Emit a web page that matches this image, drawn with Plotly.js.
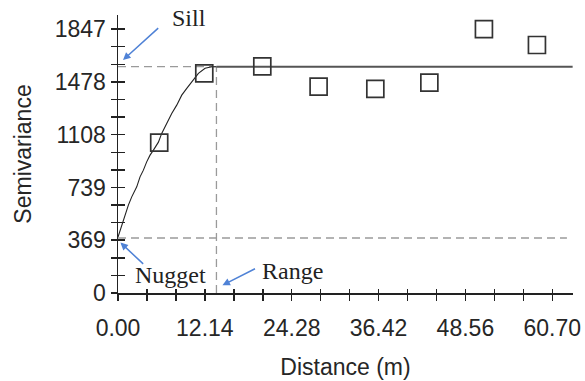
<!DOCTYPE html>
<html>
<head>
<meta charset="utf-8">
<script src="https://cdn.plot.ly/plotly-3.0.1.min.js"></script>
<style>html,body{margin:0;padding:0;background:#fff;}#chart{width:585px;height:381px;}</style>
</head>
<body>
<div id="chart"></div>
<script>
// Empirical semivariogram (lag distance in m, semivariance)
const lagDist = [5.76, 12.06, 20.17, 28.04, 35.97, 43.52, 51.15, 58.56];
const semivar = [1053, 1537, 1587, 1444, 1429, 1473, 1847, 1736];

// Fitted model curve (rising part)
const modelX = [0, 0.52, 0.98, 1.45, 1.92, 2.62, 3.08, 3.55, 4.01, 4.48, 4.95, 5.65, 6.11, 6.81, 7.51, 8.21, 8.91, 9.61, 10.55, 11.24, 12.17, 13.10, 13.76];
const modelY = [392, 474, 545, 615, 673, 743, 813, 860, 918, 965, 1000, 1056, 1117, 1187, 1257, 1315, 1385, 1432, 1491, 1537, 1573, 1584, 1584];

// Model parameters
const nugget = 385;
const sill = 1584;
const rangeDist = 13.76;
const xEnd = 63.55;

// Axis ticks
const xTickLabels = ["0.00", "12.14", "24.28", "36.42", "48.56", "60.70"];
const yTickLabels = ["0", "369", "739", "1108", "1478", "1847"];
const xMajorStep = 12.14;
const yMajorStep = 1847 / 5;

const xTickVals = [], xTickText = [];
for (let i = 0; i <= 15; i++) {
  xTickVals.push(i * xMajorStep / 3);
  xTickText.push(i % 3 === 0 ? xTickLabels[i / 3] : "");
}
const yTickVals = [], yTickText = [];
for (let i = 0; i <= 15; i++) {
  yTickVals.push(i * yMajorStep / 3);
  yTickText.push(i % 3 === 0 ? yTickLabels[i / 3] : "");
}

const XR = [0, 63.6], YR = [0, 1946];
const dashCol = "#9a9a9a";

const traces = [
  // nugget dashed
  {x: [0, 62.75], y: [nugget, nugget], mode: "lines", line: {color: dashCol, width: 1.3, dash: "8px,5px"}, hoverinfo: "skip"},
  // sill dashed up to range
  {x: [0, rangeDist], y: [sill, sill], mode: "lines", line: {color: dashCol, width: 1.3, dash: "8px,5px"}, hoverinfo: "skip"},
  // range dashed vertical
  {x: [rangeDist, rangeDist], y: [0, sill], mode: "lines", line: {color: dashCol, width: 1.3, dash: "8px,5px"}, hoverinfo: "skip"},
  // model rising curve
  {x: modelX, y: modelY, mode: "lines", line: {color: "#222", width: 1.1}, hoverinfo: "skip"},
  // sill plateau
  {x: [rangeDist, xEnd], y: [sill, sill], mode: "lines", line: {color: "#555", width: 2}, hoverinfo: "skip"},
  // empirical points
  {x: lagDist, y: semivar, mode: "markers", marker: {symbol: "square-open", size: 17, color: "#333", line: {width: 1.7, color: "#333"}}},
  // carrier for the inside-tick overlay axes
  {x: lagDist, y: semivar, xaxis: "x2", yaxis: "y2", mode: "markers", marker: {opacity: 0}, hoverinfo: "skip"}
];

const tickFont = {family: "Liberation Sans, Arial, sans-serif", size: 23, color: "#262626"};
const serif = {family: "Liberation Serif, Times New Roman, serif", size: 24, color: "#222"};
const arrowCol = "#4f82d6";

const layout = {
  width: 585, height: 381,
  margin: {l: 118, r: 12, t: 15, b: 88},
  paper_bgcolor: "#fff", plot_bgcolor: "#fff",
  showlegend: false,
  xaxis: {
    range: XR, tickmode: "array", tickvals: xTickVals, ticktext: xTickText,
    ticks: "outside", ticklen: 6, tickwidth: 1.5, tickcolor: "#222",
    showline: true, linecolor: "#222", linewidth: 1.5, showgrid: false, zeroline: false,
    tickfont: tickFont, ticklabelstandoff: 8,
    title: {text: "Distance (m)", font: tickFont, standoff: 19}
  },
  yaxis: {
    range: YR, tickmode: "array", tickvals: yTickVals, ticktext: yTickText,
    ticks: "outside", ticklen: 6, tickwidth: 1.5, tickcolor: "#222",
    showline: true, linecolor: "#222", linewidth: 1.5, showgrid: false, zeroline: false,
    tickfont: tickFont, ticklabelstandoff: 0,
    title: {text: "Semivariance", font: tickFont, standoff: 16}
  },
  xaxis2: {
    overlaying: "x", anchor: "y2", range: XR, tickmode: "array", tickvals: xTickVals,
    ticks: "inside", ticklen: 4, tickwidth: 1.5, tickcolor: "#222",
    showticklabels: false, showline: false, showgrid: false, zeroline: false
  },
  yaxis2: {
    overlaying: "y", anchor: "x2", range: YR, tickmode: "array", tickvals: yTickVals,
    ticks: "inside", ticklen: 7, tickwidth: 1.5, tickcolor: "#222",
    showticklabels: false, showline: false, showgrid: false, zeroline: false
  },
  annotations: [
    {x: 9.89, y: 1925, xref: "x", yref: "y", text: "Sill", showarrow: false, font: serif},
    {x: 7.3, y: 124, xref: "x", yref: "y", text: "Nugget", showarrow: false, font: serif},
    {x: 24.36, y: 152, xref: "x", yref: "y", text: "Range", showarrow: false, font: serif},
    {x: 0.70, y: 1631, ax: 5.83, ay: 1864, xref: "x", yref: "y", axref: "x", ayref: "y", text: "", showarrow: true, arrowhead: 2, arrowsize: 1, arrowwidth: 1.5, arrowcolor: arrowCol},
    {x: 0.34, y: 353, ax: 3.73, ay: 194, xref: "x", yref: "y", axref: "x", ayref: "y", text: "", showarrow: true, arrowhead: 2, arrowsize: 1, arrowwidth: 1.5, arrowcolor: arrowCol},
    {x: 14.6, y: 54, ax: 19.36, ay: 175, xref: "x", yref: "y", axref: "x", ayref: "y", text: "", showarrow: true, arrowhead: 2, arrowsize: 1, arrowwidth: 1.5, arrowcolor: arrowCol}
  ]
};

Plotly.newPlot("chart", traces, layout, {displayModeBar: false, staticPlot: true});
</script>
</body>
</html>
